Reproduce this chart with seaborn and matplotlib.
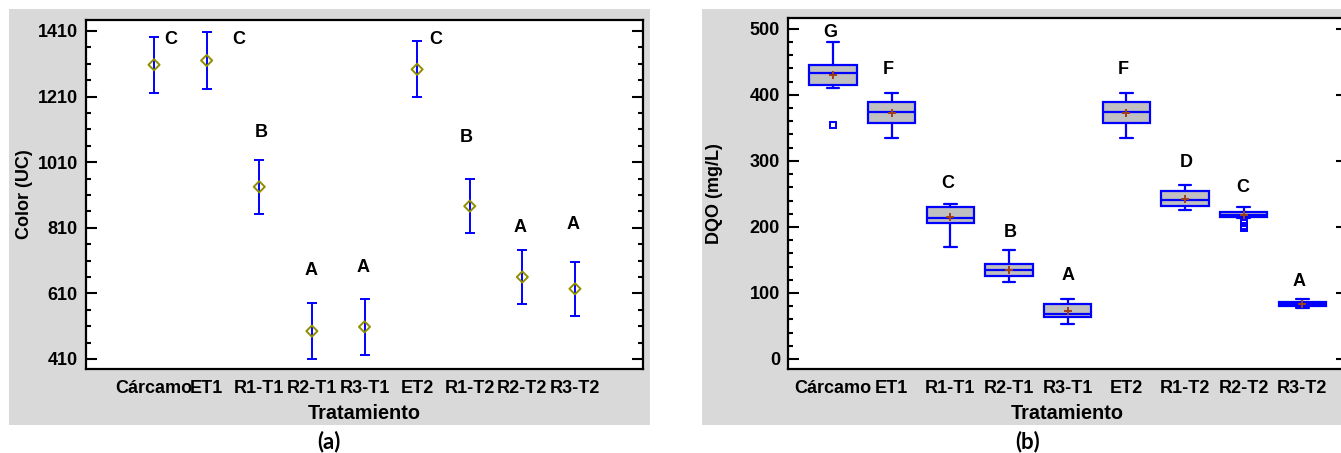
import numpy as np
import matplotlib
matplotlib.use("Agg")
import matplotlib.pyplot as plt
from matplotlib.patches import Rectangle
from matplotlib.ticker import MultipleLocator
import seaborn as sns

# Treatments (shared by both panels)
categories = ["Cárcamo", "ET1", "R1-T1", "R2-T1", "R3-T1", "ET2", "R1-T2", "R2-T2", "R3-T2"]

# Panel (a): color, mean and LSD half-interval per treatment
color_means = [1307, 1320, 935, 495, 508, 1293, 876, 660, 624]
color_halfwidths = [86, 86, 83, 85, 85, 85, 83, 83, 83]
color_groups = ["C", "C", "B", "A", "A", "C", "B", "A", "A"]

# Panel (b): DQO box statistics per treatment
dqo_whislo = [410, 334, 169, 117, 52.5, 334, 226, 213, 77]
dqo_q1 = [415, 358, 206, 126, 64, 358, 232, 215, 80]
dqo_median = [433, 374, 214, 134, 68, 374, 241, 218, 83]
dqo_q3 = [446, 389, 230, 144, 83, 389, 254.5, 222, 86]
dqo_whishi = [480, 403, 235, 165, 91, 403, 264, 230, 91]
dqo_mean = [430, 373, 215, 135, 73, 373, 243, 218, 84]
dqo_outliers = [[354], [], [], [], [], [], [], [206, 202, 198], []]
dqo_groups = ["G", "F", "C", "B", "A", "F", "D", "C", "A"]

# Placement of the group letters (x shift from the category, y in data units)
color_letter_dx = [0.32, 0.61, 0.03, -0.02, -0.02, 0.35, -0.06, -0.04, -0.03]
color_letter_y = [1385, 1385, 1099, 679, 690, 1385, 1086, 810, 821]
dqo_letter_dx = [-0.04, -0.06, -0.04, 0.02, 0.01, -0.06, 0.02, -0.02, -0.05]
dqo_letter_y = [495, 439, 266, 192, 126, 439, 298, 259, 117]

sns.set_theme(style="ticks")
plt.rcParams["font.family"] = ["Liberation Sans", "DejaVu Sans"]
plt.rcParams["font.weight"] = "bold"
plt.rcParams["axes.labelweight"] = "bold"
for key in ("text.color", "axes.labelcolor", "xtick.color", "ytick.color", "axes.edgecolor"):
    plt.rcParams[key] = "black"

W, H = 1341, 453
fig = plt.figure(figsize=(W / 100, H / 100), dpi=100)
fig.patch.set_facecolor("white")


def fig_rect(x0, y0, x1, y1):
    return [x0 / W, 1 - y1 / H, (x1 - x0) / W, (y1 - y0) / H]


# grey plot-area backgrounds behind each panel
for x0, x1 in [(9, 650), (702, 1341)]:
    r = fig_rect(x0, 9, x1, 425)
    fig.patches.append(Rectangle((r[0], r[1]), r[2], r[3], transform=fig.transFigure,
                                 facecolor="#d9d9d9", edgecolor="none", zorder=-1))

ax_a = fig.add_axes(fig_rect(86, 20, 643, 369))
ax_b = fig.add_axes(fig_rect(788.3, 18.3, 1347, 369))

x = np.arange(len(categories))
BLUE = "#0000ff"

# ---- (a) means with intervals ----
ax_a.errorbar(x, color_means, yerr=color_halfwidths, fmt="none", ecolor=BLUE,
              elinewidth=1.4, capsize=3.6, capthick=1.4, zorder=2)
sns.scatterplot(x=x, y=color_means, ax=ax_a, marker="D", s=32, facecolor="none",
                edgecolor="#8f8f00", linewidth=1.4, zorder=3)
for i, g in enumerate(color_groups):
    ax_a.text(x[i] + color_letter_dx[i], color_letter_y[i], g, ha="center", va="center",
              fontsize=13, fontweight="bold")
ax_a.set_xlim(-1.293, len(categories) - 1 + 1.293)
ax_a.set_ylim(379.5, 1443.5)
ax_a.set_yticks(np.arange(410, 1411, 200))
ax_a.yaxis.set_minor_locator(MultipleLocator(50, offset=10))
ax_a.set_ylabel("Color (UC)", fontsize=13, fontweight="bold")
ax_a.yaxis.set_label_coords(-0.095, 0.5)

# ---- (b) box plots ----
stats = []
for i in range(len(categories)):
    stats.append(dict(med=dqo_median[i], q1=dqo_q1[i], q3=dqo_q3[i],
                      whislo=dqo_whislo[i], whishi=dqo_whishi[i],
                      mean=dqo_mean[i], fliers=dqo_outliers[i]))
ax_b.bxp(stats, positions=x, widths=0.81, capwidths=0.22, patch_artist=True,
         showmeans=False,
         boxprops=dict(facecolor="#c0c0c0", edgecolor=BLUE, linewidth=1.6),
         medianprops=dict(color=BLUE, linewidth=1.6),
         whiskerprops=dict(color=BLUE, linewidth=1.6),
         capprops=dict(color=BLUE, linewidth=1.6),
         flierprops=dict(marker="s", markerfacecolor="none", markeredgecolor=BLUE,
                         markersize=5, markeredgewidth=1.4))
sns.scatterplot(x=x, y=dqo_mean, ax=ax_b, marker="+", s=30, color="#a0401a",
                linewidth=1.4, zorder=4)
for i, g in enumerate(dqo_groups):
    ax_b.text(x[i] + dqo_letter_dx[i], dqo_letter_y[i], g, ha="center", va="center",
              fontsize=13, fontweight="bold")
ax_b.set_xlim(-0.762, len(categories) - 1 + 0.762)
ax_b.set_ylim(-15.2, 516)
ax_b.set_yticks(np.arange(0, 501, 100))
ax_b.yaxis.set_minor_locator(MultipleLocator(20))
ax_b.set_ylabel("DQO (mg/L)", fontsize=13, fontweight="bold")
ax_b.yaxis.set_label_coords(-0.117, 0.5)

for ax in (ax_a, ax_b):
    ax.set_facecolor("white")
    ax.set_xticks(x)
    ax.set_xticklabels(categories, fontsize=13, fontweight="bold")
    ax.tick_params(axis="x", which="both", length=0, pad=8)
    ax.tick_params(axis="y", which="both", direction="in", left=True, right=True,
                   width=1.5, color="black", labelsize=13, pad=6)
    ax.tick_params(axis="y", which="major", length=7.8)
    ax.tick_params(axis="y", which="minor", length=3.5)
    for lbl in ax.get_yticklabels():
        lbl.set_fontweight("bold")
    for sp in ax.spines.values():
        sp.set_visible(True)
        sp.set_linewidth(1.6)
        sp.set_color("black")
    ax.set_xlabel("Tratamiento", fontsize=14.3, fontweight="bold")
    ax.xaxis.set_label_coords(0.5, -0.1)

fig.text(329 / W, 1 - 442 / H, "(a)", ha="center", va="center", fontsize=16,
         fontweight="bold", family=["Lato", "DejaVu Sans"])
fig.text(1028 / W, 1 - 442 / H, "(b)", ha="center", va="center", fontsize=16,
         fontweight="bold", family=["Lato", "DejaVu Sans"])

fig.savefig("out.png", dpi=100)
